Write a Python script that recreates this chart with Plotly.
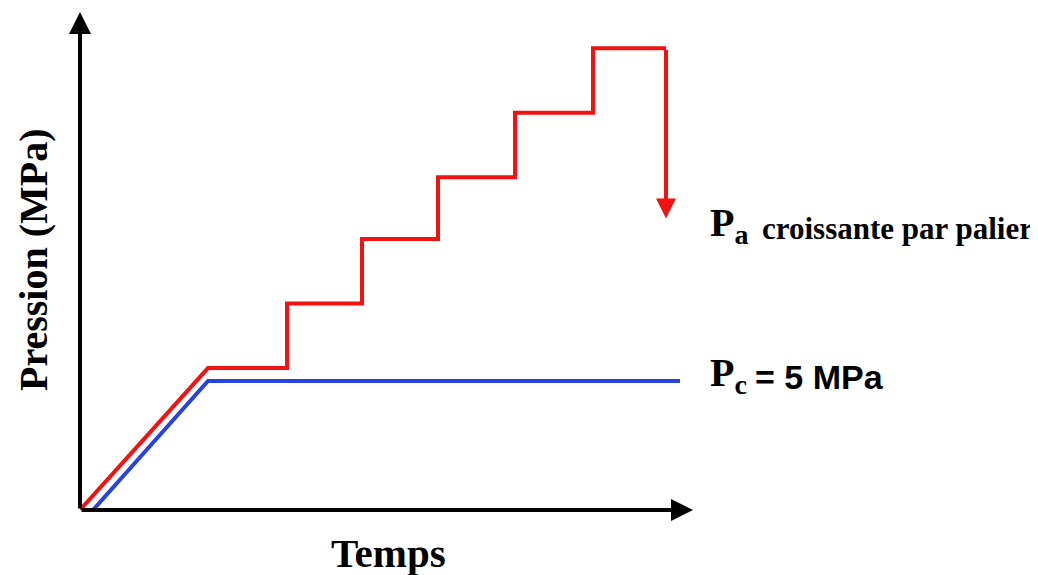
import plotly.graph_objects as go

# Data (time in arbitrary units, pressure in MPa)
red_t = [0, 12.8, 20.7, 20.7, 28.2, 28.2, 35.8, 35.8, 43.5, 43.5, 51.3, 51.3, 58.6]
red_p = [0, 5.5, 5.5, 8.0, 8.0, 10.5, 10.5, 12.9, 12.9, 15.4, 15.4, 17.9, 17.9]
unload_end_p = 11.3
blue_t = [1.3, 12.8, 60.0]
blue_p = [0, 5.0, 5.0]
x_axis_end = 61.3
y_axis_end = 19.3

RED = "#f21212"
BLUE = "#2642e0"
SERIF = "Liberation Serif, Times New Roman, serif"
SANS = "Liberation Sans, Arial, sans-serif"

fig = go.Figure()
fig.add_trace(go.Scatter(x=blue_t, y=blue_p, mode="lines",
                         line=dict(color=BLUE, width=4), cliponaxis=False, hoverinfo="skip"))
fig.add_trace(go.Scatter(x=red_t, y=red_p, mode="lines",
                         line=dict(color=RED, width=4), cliponaxis=False, hoverinfo="skip"))

ann = []
# axes arrows
ann.append(dict(x=x_axis_end, y=0, ax=0, ay=0, xref="x", yref="y", axref="x", ayref="y",
                showarrow=True, arrowhead=2, arrowsize=1.1, arrowwidth=4, arrowcolor="black",
                standoff=0, text=""))
ann.append(dict(x=0, y=y_axis_end, ax=0, ay=0, xref="x", yref="y", axref="x", ayref="y",
                showarrow=True, arrowhead=2, arrowsize=1.1, arrowwidth=4, arrowcolor="black",
                standoff=0, text=""))
# unloading arrow
ann.append(dict(x=red_t[-1], y=unload_end_p, ax=red_t[-1], ay=red_p[-1], xref="x", yref="y",
                axref="x", ayref="y", showarrow=True, arrowhead=2, arrowsize=1, arrowwidth=4,
                arrowcolor=RED, standoff=0, text=""))
# labels
ann.append(dict(x=(33 - 80) / 620, y=(510 - 260) / 500, xref="paper", yref="paper",
                xanchor="center", yanchor="middle", text="<b>Pression (MPa)</b>",
                textangle=-90, showarrow=False, font=dict(family=SERIF, size=40, color="black")))
ann.append(dict(x=(388 - 80) / 620, y=(510 - 553) / 500, xref="paper", yref="paper",
                xanchor="center", yanchor="middle", text="<b>Temps</b>",
                showarrow=False, font=dict(family=SERIF, size=41, color="black")))
ann.append(dict(x=(708 - 80) / 620, y=(510 - 225) / 500, xref="paper", yref="paper",
                xanchor="left", yanchor="middle", showarrow=False,
                text="<b>P<sub>a</sub></b>",
                font=dict(family=SERIF, size=40, color="black")))
ann.append(dict(x=(760 - 80) / 620, y=(510 - 228) / 500, xref="paper", yref="paper",
                xanchor="left", yanchor="middle", showarrow=False,
                text="<b>croissante par palier</b>",
                font=dict(family=SERIF, size=31, color="black")))
ann.append(dict(x=(708 - 80) / 620, y=(510 - 375) / 500, xref="paper", yref="paper",
                xanchor="left", yanchor="middle", showarrow=False,
                text="<b>P<sub>c</sub></b>",
                font=dict(family=SERIF, size=40, color="black")))
ann.append(dict(x=(753 - 80) / 620, y=(510 - 377) / 500, xref="paper", yref="paper",
                xanchor="left", yanchor="middle", showarrow=False,
                text="<b>= 5 MPa</b>",
                font=dict(family=SANS, size=34, color="black")))

fig.update_layout(
    width=1038, height=575,
    margin=dict(l=72, r=346, t=2, b=73),
    plot_bgcolor="white", paper_bgcolor="white",
    showlegend=False,
    xaxis=dict(range=[0, 62], visible=False),
    yaxis=dict(range=[0, 19.38], visible=False),
    annotations=ann,
)
fig.write_html("out.html")
